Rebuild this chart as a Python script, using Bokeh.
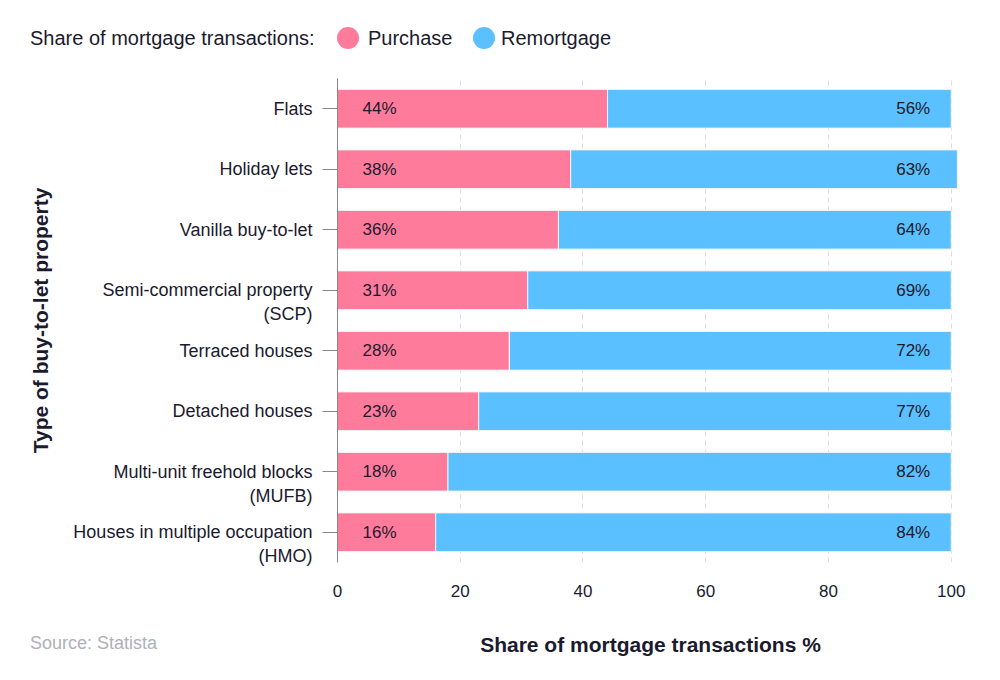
from bokeh.plotting import figure
from bokeh.models import ColumnDataSource, FactorRange, Range1d, FixedTicker, Div
from bokeh.layouts import column
from bokeh.core.properties import value
from bokeh.embed import file_html
from bokeh.resources import INLINE
import numpy as np

categories = ["Flats", "Holiday lets", "Vanilla buy-to-let",
              "Semi-commercial property\n(SCP)", "Terraced houses", "Detached houses",
              "Multi-unit freehold blocks\n(MUFB)", "Houses in multiple occupation\n(HMO)"]
purchase = [44, 38, 36, 31, 28, 23, 18, 16]
remortgage = [56, 63, 64, 69, 72, 77, 82, 84]
x_ticks = [0, 20, 40, 60, 80, 100]
series_names = ["Purchase", "Remortgage"]
legend_title = "Share of mortgage transactions:"
source_note = "Source: Statista"

PINK = "#FF7B9C"
BLUE = "#5BC0FF"
TEXT = "#1b1a2e"
FONT = "Liberation Sans"
W = 990

# ---------------- legend strip (HTML) ----------------
span = "position:absolute;top:27px;line-height:22px;white-space:nowrap;"
dot = "position:absolute;top:27px;width:22px;height:22px;border-radius:50%;"
legend_html = (
    f'<div style="position:relative;width:{W}px;height:78px;font-family:\'{FONT}\';'
    f'font-size:20px;color:{TEXT};">'
    f'<span style="{span}left:30px;">{legend_title}</span>'
    f'<span style="{dot}left:337px;background:{PINK};"></span>'
    f'<span style="{span}left:368px;">{series_names[0]}</span>'
    f'<span style="{dot}left:473px;background:{BLUE};"></span>'
    f'<span style="{span}left:501px;">{series_names[1]}</span>'
    '</div>'
)
legend_div = Div(text=legend_html, width=W, height=78, margin=0)

# ---------------- main chart ----------------
# leading blank line keeps the first line of two-line labels level with the tick
display_cats = ["\n" + c if "\n" in c else c for c in categories]

purchase_arr = np.array(purchase)
remort_arr = np.array(remortgage)
src = ColumnDataSource(dict(
    cat=display_cats,
    purchase=purchase,
    remortgage=remortgage,
    p_lab=[f"{v}%" for v in purchase],
    r_lab=[f"{v}%" for v in remortgage],
    zero=[0] * len(categories),
    r_x=list(np.minimum(purchase_arr + remort_arr, 100)),
))

factors = list(reversed(display_cats))
p = figure(width=W, height=600,
           y_range=FactorRange(factors=factors, range_padding=0),
           x_range=Range1d(0, 102),
           output_backend="svg", toolbar_location=None,
           min_border_left=337, min_border_right=27, min_border_top=0, min_border_bottom=116)
p.outline_line_color = None

p.hbar_stack(["purchase", "remortgage"], y="cat", height=0.64, color=[PINK, BLUE],
             line_color="#f4f4f6", line_width=1, source=src)

p.text(x="zero", y="cat", text="p_lab", source=src, x_offset=25,
       text_align="left", text_baseline="middle", text_color=TEXT,
       text_font=value(FONT), text_font_size="17px")
p.text(x="r_x", y="cat", text="r_lab", source=src, x_offset=-21,
       text_align="right", text_baseline="middle", text_color=TEXT,
       text_font=value(FONT), text_font_size="17px")

# grid
p.ygrid.grid_line_color = None
p.xgrid.ticker = FixedTicker(ticks=x_ticks)
p.xgrid.grid_line_color = "#e2dce0"
p.xgrid.grid_line_dash = "5 4"
p.xgrid.grid_line_width = 1

# x axis
p.xaxis.ticker = FixedTicker(ticks=x_ticks)
p.xaxis.axis_line_color = None
p.xaxis.major_tick_line_color = None
p.xaxis.minor_tick_line_color = None
p.xaxis.major_label_standoff = 16
p.xaxis.major_label_text_font = FONT
p.xaxis.major_label_text_font_size = "17px"
p.xaxis.major_label_text_color = TEXT
p.xaxis.axis_label = "Share of mortgage transactions %"
p.xaxis.axis_label_text_font = FONT
p.xaxis.axis_label_text_font_size = "21px"
p.xaxis.axis_label_text_font_style = "bold"
p.xaxis.axis_label_text_color = TEXT
p.xaxis.axis_label_standoff = 33

# y axis
p.yaxis.axis_line_color = "#888888"
p.yaxis.major_tick_line_color = "#888888"
p.yaxis.major_tick_out = 15
p.yaxis.major_tick_in = 0
p.yaxis.major_label_standoff = 10
p.yaxis.major_label_text_font = FONT
p.yaxis.major_label_text_font_size = "18px"
p.yaxis.major_label_text_color = TEXT
p.yaxis.axis_label = "Type of buy-to-let property"
p.yaxis.axis_label_text_font = FONT
p.yaxis.axis_label_text_font_size = "21px"
p.yaxis.axis_label_text_font_style = "bold"
p.yaxis.axis_label_text_color = TEXT
p.yaxis.axis_label_standoff = 18

source_div = Div(
    text=(f'<div style="font-family:\'{FONT}\';font-size:18px;color:#b0b0b8;'
          f'line-height:22px;white-space:nowrap;">{source_note}</div>'),
    width=200, height=22, margin=(-46, 0, 0, 30))

open("out.html", "w").write(file_html(column(legend_div, p, source_div), INLINE))
